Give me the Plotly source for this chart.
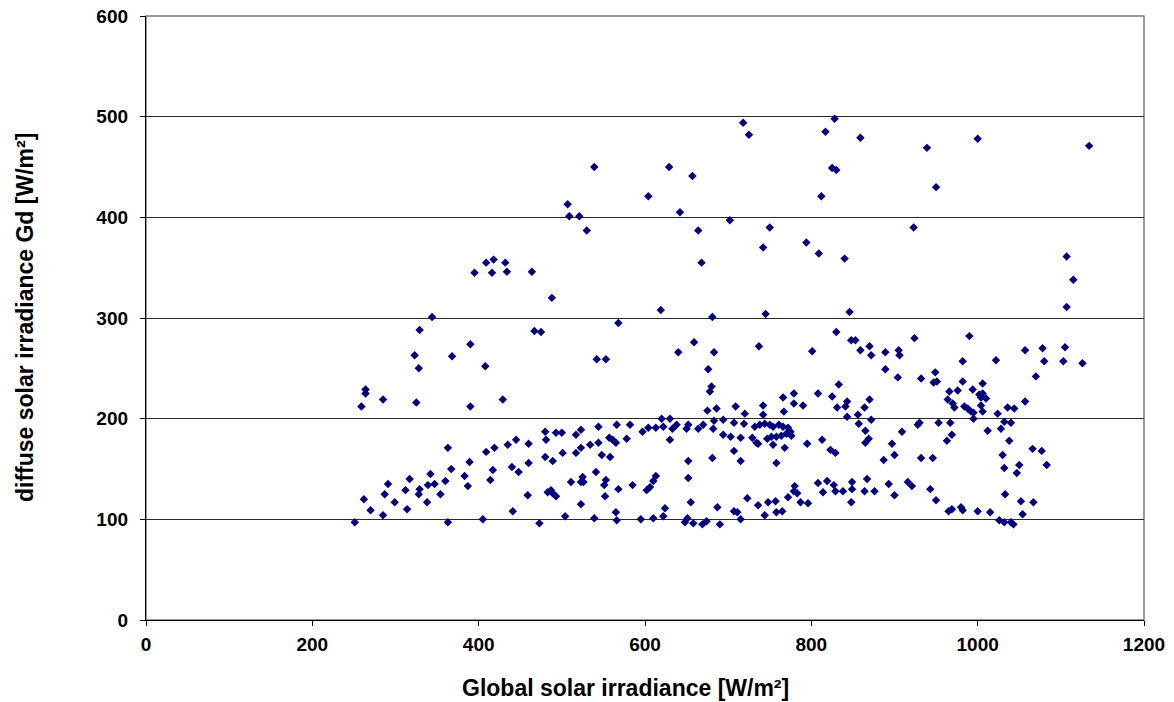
import plotly.graph_objects as go

# Global solar irradiance [W/m2]
global_irr = [
    409, 418, 432, 395, 416, 434, 464, 488, 344, 718, 725, 539, 629, 657, 604, 507, 509, 521, 642, 530,
    664, 702, 668, 619, 681, 828, 817, 859, 939, 825, 830, 950, 812, 750, 923, 742, 794, 809, 840, 745,
    846, 1000, 1134, 1107, 1115, 1107,
    329, 323, 328, 264, 264, 259, 285, 325, 368, 390, 408, 390, 429, 467, 475, 480, 481, 493, 445, 435,
    460, 419, 409, 363, 389, 367, 383, 387, 417, 414, 440, 448, 460, 480, 489, 459, 441, 405, 363, 473,
    251, 285, 270, 262, 287, 291, 299, 314, 312, 317, 329, 328, 338, 339, 342, 347, 354, 360,
    568, 542, 553, 659, 640, 683, 737, 676, 680, 678, 675, 686, 709, 720, 620, 630, 683, 694, 707, 719,
    732, 500, 517, 523, 544, 566, 582, 597, 604, 613, 622, 633, 638, 650, 652, 664, 670, 682, 694, 703,
    715, 729, 734, 630, 534, 523, 517, 544, 557, 561, 565, 578, 501, 548, 558, 707, 715, 681, 652, 652,
    541, 525, 523, 526, 511, 553, 551, 552, 568, 585, 613, 610, 606, 602, 483, 487, 489, 493, 523, 655,
    687, 707, 711, 723, 736, 504, 539, 565, 566, 595, 610, 622, 624, 648, 651, 658, 669, 674, 690, 715,
    830, 848, 853, 801, 859, 870, 872, 889, 905, 906, 924, 889, 904, 949, 951, 947, 932, 966, 976, 964,
    970, 972, 833, 808, 825, 843, 841, 831, 870, 864, 779, 779, 766, 767, 790, 742, 742, 843, 856, 872,
    857, 865, 869, 865, 909, 897, 900, 887, 928, 930, 953, 967, 969, 963, 932, 946,
    738, 744, 750, 754, 761, 766, 772, 775, 776, 770, 764, 758, 752, 747, 736, 754, 768, 758, 795, 813,
    823, 829,
    808, 819, 814, 827, 829, 838, 849, 849, 848, 867, 864, 876, 893, 900, 916, 921, 943, 950, 965, 969,
    780, 779, 783, 772, 787, 796, 757, 748, 765, 758, 744,
    990, 982, 1022, 1057, 1078, 1080, 1105, 1103, 1126, 1070, 1057, 982, 994, 1006, 1002, 1004, 1006, 1010, 984, 988,
    992, 995, 995, 1004, 1006, 1024, 1036, 1044, 1032, 1040, 1028, 1012, 1038, 1030, 1032, 1050, 1047, 1066, 1077, 1083,
    1033, 1052, 1067, 1054, 980, 982, 1000, 1015, 1026, 1032, 1040, 1043,
]

# Diffuse solar irradiance Gd [W/m2]
diffuse_irr = [
    355, 358, 355, 345, 345, 346, 346, 320, 301, 494, 482, 450, 450, 441, 421, 413, 401, 401, 405, 387,
    387, 397, 355, 308, 301, 498, 485, 479, 469, 449, 447, 430, 421, 390, 390, 370, 375, 364, 359, 304,
    306, 478, 471, 361, 338, 311,
    288, 263, 250, 229, 225, 212, 219, 216, 262, 274, 252, 212, 219, 287, 286, 187, 179, 186, 179, 174,
    175, 171, 167, 171, 157, 150, 143, 133, 149, 139, 152, 147, 156, 162, 158, 124, 108, 100, 97, 96,
    97, 104, 109, 120, 125, 135, 117, 110, 129, 140, 130, 125, 117, 134, 145, 135, 125, 138,
    295, 259, 259, 276, 266, 266, 272, 249, 232, 227, 208, 210, 212, 205, 200, 200, 198, 199, 196, 195,
    192, 186, 184, 189, 192, 194, 194, 187, 191, 191, 192, 190, 194, 190, 194, 190, 194, 190, 184, 182,
    181, 181, 176, 179, 174, 171, 166, 176, 181, 179, 176, 180, 166, 164, 162, 168, 158, 161, 158, 141,
    147, 142, 137, 137, 137, 139, 134, 123, 130, 134, 143, 138, 132, 129, 127, 129, 126, 123, 115, 117,
    112, 108, 107, 121, 114, 103, 101, 107, 99, 100, 101, 103, 111, 97, 101, 96, 95, 98, 95, 100,
    286, 278, 278, 267, 268, 272, 263, 266, 268, 263, 280, 249, 241, 246, 237, 236, 240, 227, 228, 219,
    215, 211, 234, 225, 222, 217, 212, 211, 219, 211, 225, 215, 221, 207, 213, 213, 204, 202, 204, 199,
    195, 188, 180, 176, 187, 175, 164, 159, 194, 196, 196, 196, 184, 178, 161, 161,
    194, 195, 194, 192, 194, 192, 191, 187, 183, 185, 183, 182, 182, 180, 175, 174, 171, 156, 175, 179,
    169, 166,
    136, 138, 127, 134, 128, 128, 137, 130, 117, 140, 128, 128, 135, 124, 137, 133, 130, 119, 108, 110,
    133, 128, 126, 122, 117, 116, 118, 117, 108, 107, 104,
    282, 257, 258, 268, 270, 257, 271, 257, 255, 242, 217, 237, 229, 235, 224, 221, 225, 220, 212, 210,
    207, 206, 200, 213, 207, 205, 211, 210, 197, 196, 190, 188, 178, 164, 151, 154, 146, 170, 168, 154,
    125, 118, 117, 105, 112, 109, 108, 107, 99, 97, 97, 95,
]

x_ticks = [0, 200, 400, 600, 800, 1000, 1200]
y_ticks = [0, 100, 200, 300, 400, 500, 600]

FONT = "Liberation Sans, Arial, sans-serif"

fig = go.Figure()
fig.add_trace(go.Scatter(
    x=global_irr, y=diffuse_irr, mode="markers",
    marker=dict(symbol="diamond", size=6.5, color="#000080", line=dict(width=0)),
    showlegend=False, cliponaxis=False,
))

fig.update_layout(
    width=1174, height=702,
    margin=dict(l=146, r=30, t=16, b=82, autoexpand=False),
    paper_bgcolor="white", plot_bgcolor="white",
    font=dict(family=FONT, color="black"),
    xaxis=dict(
        range=[0, 1200], tickvals=x_ticks, ticktext=[str(v) for v in x_ticks],
        showgrid=False, zeroline=False, automargin=False,
        showline=True, linecolor="black", linewidth=1.3,
        ticks="outside", ticklen=5, tickcolor="black", tickwidth=1.3,
        ticklabelstandoff=2,
        tickfont=dict(size=19, family=FONT, weight="bold"),
    ),
    yaxis=dict(
        range=[0, 600], tickvals=y_ticks, ticktext=[str(v) for v in y_ticks],
        showgrid=True, gridcolor="#2a2a2a", gridwidth=1.3,
        zeroline=False, automargin=False,
        showline=True, linecolor="black", linewidth=1.3,
        ticks="outside", ticklen=5, tickcolor="black", tickwidth=1.3,
        ticklabelstandoff=8,
        tickfont=dict(size=19, family=FONT, weight="bold"),
    ),
    annotations=[
        dict(text="<b>Global solar irradiance [W/m²]</b>", xref="paper", yref="paper",
             x=(625 - 146) / 998, y=-(688 - 620) / 604, xanchor="center", yanchor="middle",
             showarrow=False, font=dict(size=23, family=FONT, color="black")),
        dict(text="<b>diffuse solar irradiance Gd [W/m²]</b>", xref="paper", yref="paper",
             x=-(146 - 25) / 998, y=(620 - 318) / 604, xanchor="center", yanchor="middle",
             textangle=-90, showarrow=False, font=dict(size=23, family=FONT, color="black")),
    ],
    shapes=[dict(type="rect", xref="paper", yref="paper", x0=0, y0=0, x1=1, y1=1,
                 line=dict(color="#7a7a7a", width=1.5), layer="below")],
)

fig.write_html("out.html")
